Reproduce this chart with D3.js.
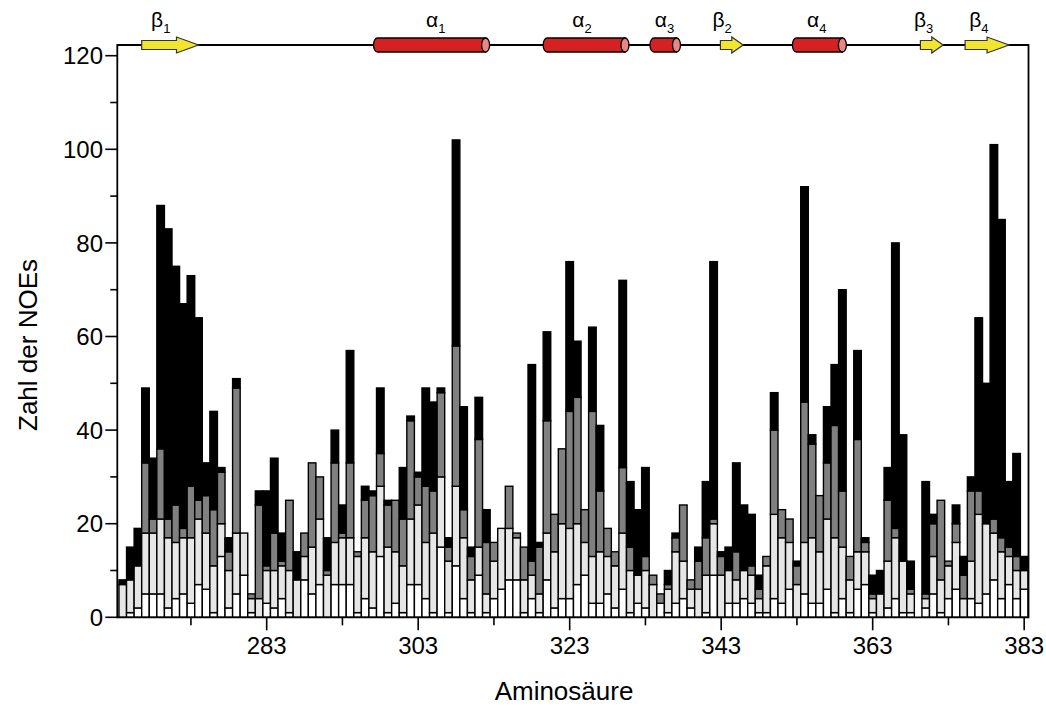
<!DOCTYPE html>
<html><head><meta charset="utf-8">
<script src="https://cdn.jsdelivr.net/npm/d3@7"></script>
<style>html,body{margin:0;padding:0;background:#fff;}svg{display:block;font-family:"Liberation Sans",Arial,sans-serif;}</style>
</head><body><svg id="c" width="1046" height="706"></svg>
<script>
// residues 264..383
const firstResidue = 264;
// cumulative tops: [white, +lightgray, +darkgray, +black]
const cumWhite = [0,1,2,5,5,5,2,4,5,3,7,6,1,13,2,5,9,1,0,3,2,4,1,0,8,5,7,0,7,7,7,1,4,2,13,1,3,1,7,7,4,1,15,1,11,4,1,9,1,4,6,8,8,1,4,1,8,2,4,4,7,9,3,3,5,2,6,1,3,2,0,3,1,3,4,2,0,1,9,0,3,3,4,3,1,1,4,3,6,0,5,3,3,6,1,4,1,6,7,1,0,2,4,1,1,0,2,5,1,4,6,0,4,3,5,8,4,7,4,6];
const cumLight = [7,8,11,18,18,21,17,16,17,17,21,18,11,20,10,18,18,4,4,10,10,11,10,8,13,15,21,9,16,17,17,13,17,14,28,15,14,11,21,24,16,18,30,12,28,17,8,15,5,12,19,19,17,8,9,5,18,14,20,19,20,16,13,14,13,11,18,10,9,10,7,3,6,14,12,6,6,9,20,9,10,8,10,9,4,11,22,17,16,7,16,17,14,21,17,15,8,14,14,4,5,12,17,12,5,0,4,13,8,11,16,4,12,22,20,18,14,13,10,10];
const cumDark = [7,8,11,33,21,36,21,24,19,28,25,26,23,31,14,49,18,5,24,11,18,12,25,8,18,33,30,10,33,18,33,14,25,26,35,24,25,21,42,30,28,27,48,15,58,23,13,38,16,16,19,28,18,15,12,15,42,22,36,44,47,23,44,27,19,14,32,15,9,13,9,5,7,17,24,8,12,17,21,13,10,14,10,11,6,13,40,23,21,11,46,37,26,33,41,27,13,38,16,5,5,25,19,12,6,0,5,20,25,12,20,9,27,27,20,21,17,15,13,10];
const cumTotal = [8,15,19,49,34,88,83,75,67,73,64,33,44,32,17,51,18,5,27,27,34,18,25,14,18,33,30,17,40,24,57,14,28,27,49,25,25,32,43,31,49,46,49,17,102,45,15,47,23,16,19,28,18,15,54,16,61,22,36,76,59,23,62,41,19,14,72,29,23,32,9,5,10,18,24,8,15,29,76,14,15,33,24,22,9,13,48,23,21,12,92,39,26,45,54,70,13,57,17,9,10,32,80,39,12,0,29,22,25,12,24,13,30,64,50,101,85,29,35,13];

const seriesNames = ["white","light","dark","black"];
const seriesColors = ["#ffffff","#e6e6e6","#808080","#000000"];

const xTickValues = [273,283,293,303,313,323,333,343,353,363,373,383];
const xTickLabels = [283,303,323,343,363,383];
const yTickValues = [0,10,20,30,40,50,60,70,80,90,100,110,120];
const yTickLabels = [0,20,40,60,80,100,120];

// secondary structure elements (residue ranges) and label residue
const ssType  = ["E","H","H","H","E","H","E","E"];
const ssStart = [266.5,297.1,319.5,333.6,342.9,352.4,369.3,375.2];
const ssEnd   = [274.0,311.9,330.3,337.1,345.9,359.0,372.3,381.0];
const ssLabelAt = [268.6,304.9,324.2,335.1,342.7,355.2,369.3,376.6];
const ssGreek = ["β","α","α","α","β","α","β","β"];
const ssIndex = ["1","1","2","3","2","4","3","4"];

(function(){
const svg = d3.select("#c");
const x = d3.scaleLinear().domain([263.28, 383.57]).range([117.3, 1028.5]);
const y = d3.scaleLinear().domain([0,120]).range([617.3, 55.7]);
const bw = x(1) - x(0);

const rows = cumTotal.map((t,i)=>({res:firstResidue+i, c:[0,cumWhite[i],cumLight[i],cumDark[i],t]}));

const g = svg.append("g");
rows.forEach(r=>{
  for(let k=0;k<4;k++){
    const lo=r.c[k], hi=r.c[k+1];
    if(hi<=lo) continue;
    g.append("rect")
      .attr("x", x(r.res)-bw/2).attr("width", bw)
      .attr("y", y(hi)).attr("height", y(lo)-y(hi))
      .attr("fill", seriesColors[k]).attr("stroke","#000").attr("stroke-width",1.4);
  }
});

// frame
const topY = 45;
svg.append("path").attr("d",`M${x.range()[0]},${topY}V${y(0)}H${x.range()[1]}V${topY}Z`)
  .attr("fill","none").attr("stroke","#000").attr("stroke-width",1.8);

// y axis ticks
yTickValues.forEach(v=>{
  const major = yTickLabels.includes(v);
  svg.append("line").attr("x1",117.3).attr("x2",117.3-(major?12:7)).attr("y1",y(v)).attr("y2",y(v)).attr("stroke","#000").attr("stroke-width",1.6);
});
yTickLabels.forEach(v=>{
  svg.append("text").attr("x",103).attr("y",y(v)).attr("dy","0.36em").attr("text-anchor","end")
    .attr("font-size",24).text(v);
});
// x axis ticks
xTickValues.forEach(v=>{
  const major = xTickLabels.includes(v);
  svg.append("line").attr("x1",x(v)).attr("x2",x(v)).attr("y1",y(0)).attr("y2",y(0)+(major?13:8)).attr("stroke","#000").attr("stroke-width",1.6);
});
xTickLabels.forEach(v=>{
  svg.append("text").attr("x",x(v)).attr("y",654).attr("text-anchor","middle").attr("font-size",24).text(v);
});
svg.append("text").attr("x",564).attr("y",700).attr("text-anchor","middle").attr("font-size",26).text("Aminosäure");
svg.append("text").attr("transform","translate(37,345) rotate(-90)").attr("text-anchor","middle").attr("font-size",26).text("Zahl der NOEs");

// secondary structure
ssType.forEach((t,i)=>{
  const x0=x(ssStart[i]), x1=x(ssEnd[i]);
  if(t==="H"){
    const h=14, rx=4;
    svg.append("path").attr("d",`M${x1},${topY-h/2}H${x0+rx}A${rx},${h/2} 0 0 0 ${x0+rx},${topY+h/2}H${x1}Z`)
      .attr("fill","#d42222").attr("stroke","#000").attr("stroke-width",1.3);
    svg.append("ellipse").attr("cx",x1).attr("cy",topY).attr("rx",rx).attr("ry",h/2)
      .attr("fill","#e98787").attr("stroke","#000").attr("stroke-width",1.3);
  } else {
    const bh=4.5, hh=8, head=Math.min(22,(x1-x0)*0.5);
    svg.append("path").attr("d",`M${x0},${topY-bh}H${x1-head}V${topY-hh}L${x1},${topY}L${x1-head},${topY+hh}V${topY+bh}H${x0}Z`)
      .attr("fill","#f2e530").attr("stroke","#333").attr("stroke-width",1.2);
  }
  const tx = svg.append("text").attr("x",x(ssLabelAt[i])-6.5).attr("y",27).attr("font-size",21);
  tx.append("tspan").text(ssGreek[i]);
  tx.append("tspan").attr("font-size",13).attr("dy",6).text(ssIndex[i]);
});
})();
</script></body></html>
